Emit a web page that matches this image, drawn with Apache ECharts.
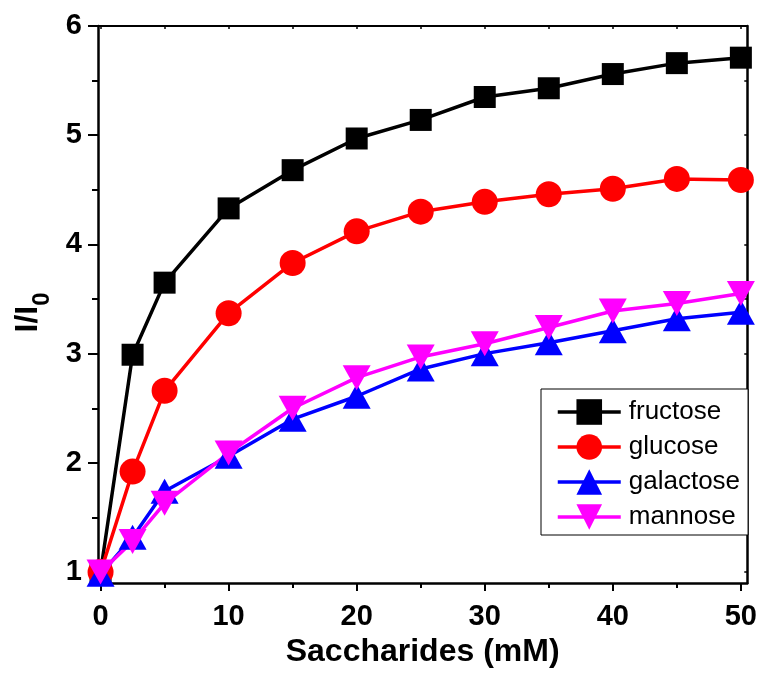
<!DOCTYPE html>
<html>
<head>
<meta charset="utf-8">
<script src="https://cdn.jsdelivr.net/npm/echarts@6/dist/echarts.min.js"></script>
<style>html,body{margin:0;padding:0;background:#fff;}#c{width:760px;height:677px;}</style>
</head>
<body>
<div id="c"></div>
<script>
var xValues = [0, 2.5, 5, 10, 15, 20, 25, 30, 35, 40, 45, 50];
var fructose = [1.0, 2.99, 3.65, 4.33, 4.68, 4.97, 5.14, 5.35, 5.43, 5.56, 5.66, 5.71];
var glucose = [1.0, 1.92, 2.66, 3.37, 3.83, 4.12, 4.30, 4.39, 4.46, 4.51, 4.60, 4.59];
var galactose = [0.98, 1.32, 1.74, 2.06, 2.40, 2.61, 2.86, 3.00, 3.10, 3.21, 3.32, 3.38];
var mannose = [1.0, 1.28, 1.63, 2.09, 2.50, 2.78, 2.97, 3.09, 3.24, 3.39, 3.46, 3.55];
var xMajorTicks = [0, 10, 20, 30, 40, 50];
var xMinorTicks = [5, 15, 25, 35, 45];
var yMajorTicks = [1, 2, 3, 4, 5, 6];
var yMinorTicks = [1.5, 2.5, 3.5, 4.5, 5.5];

function pairs(ys) { return xValues.map(function (x, i) { return [x, ys[i]]; }); }

var FONT = 'Liberation Sans, Arial, sans-serif';
var X_MIN = -0.2, X_MAX = 50.5, Y_MIN = 0.9, Y_MAX = 6;

var chart = echarts.init(document.getElementById('c'), null, {renderer: 'canvas'});

function mk(name, data, color, symbol, size, rotate) {
  return {
    name: name, type: 'line', data: pairs(data),
    xAxisIndex: 0, yAxisIndex: 0,
    symbol: symbol, symbolSize: size, symbolRotate: rotate || 0,
    showAllSymbol: true,
    lineStyle: {color: color, width: 3.5},
    itemStyle: {color: color, borderWidth: 0},
    emphasis: {disabled: true},
    animation: false
  };
}

var option = {
  animation: false,
  backgroundColor: '#fff',
  grid: {left: 98, right: 12, top: 26, bottom: 94, containLabel: false},
  xAxis: [
    {
      type: 'value', position: 'bottom', min: X_MIN, max: X_MAX,
      name: 'Saccharides (mM)', nameLocation: 'middle', nameGap: 52,
      nameTextStyle: {fontFamily: FONT, fontSize: 32, fontWeight: 'bold', color: '#000'},
      axisLine: {show: true, onZero: false, lineStyle: {color: '#000', width: 2.5}},
      axisTick: {show: true, inside: false, length: 8, customValues: xMajorTicks, lineStyle: {color: '#000', width: 2}},
      axisLabel: {show: true, margin: 19, customValues: xMajorTicks, fontFamily: FONT, fontSize: 29, fontWeight: 'bold', color: '#000'},
      splitLine: {show: false}
    },
    {
      type: 'value', position: 'top', min: X_MIN, max: X_MAX,
      axisLine: {show: true, onZero: false, lineStyle: {color: '#000', width: 2}},
      axisTick: {show: true, inside: true, length: 3, customValues: xMajorTicks.concat(xMinorTicks), lineStyle: {color: '#000', width: 1.5}},
      axisLabel: {show: false},
      splitLine: {show: false}
    },
    {
      type: 'value', position: 'bottom', min: X_MIN, max: X_MAX,
      axisLine: {show: false, onZero: false},
      axisTick: {show: true, inside: false, length: 5, customValues: xMinorTicks, lineStyle: {color: '#000', width: 2}},
      axisLabel: {show: false},
      splitLine: {show: false}
    }
  ],
  yAxis: [
    {
      type: 'value', position: 'left', min: Y_MIN, max: Y_MAX,
      name: '{a|I/I}{b|0}', nameLocation: 'middle', nameGap: 52, nameRotate: 90,
      nameTextStyle: {
        fontFamily: FONT, color: '#000', padding: [0, 16, 0, 0],
        rich: {
          a: {fontFamily: FONT, fontSize: 32, fontWeight: 'bold', color: '#000', lineHeight: 34, verticalAlign: 'top', padding: [0, 0, 8, 0]},
          b: {fontFamily: FONT, fontSize: 24, fontWeight: 'bold', color: '#000', lineHeight: 24, verticalAlign: 'top', padding: [18, 0, 0, 0]}
        }
      },
      axisLine: {show: true, onZero: false, lineStyle: {color: '#000', width: 2.5}},
      axisTick: {show: true, inside: false, length: 10, customValues: yMajorTicks, lineStyle: {color: '#000', width: 2}},
      axisLabel: {show: true, margin: 16, customValues: yMajorTicks, fontFamily: FONT, fontSize: 29, fontWeight: 'bold', color: '#000'},
      splitLine: {show: false}
    },
    {
      type: 'value', position: 'right', min: Y_MIN, max: Y_MAX,
      axisLine: {show: true, onZero: false, lineStyle: {color: '#000', width: 2.5}},
      axisTick: {show: true, inside: true, length: 3, customValues: yMajorTicks.concat(yMinorTicks), lineStyle: {color: '#000', width: 1.5}},
      axisLabel: {show: false},
      splitLine: {show: false}
    },
    {
      type: 'value', position: 'left', min: Y_MIN, max: Y_MAX,
      axisLine: {show: false, onZero: false},
      axisTick: {show: true, inside: false, length: 6, customValues: yMinorTicks, lineStyle: {color: '#000', width: 2}},
      axisLabel: {show: false},
      splitLine: {show: false}
    }
  ],
  legend: {
    show: true, orient: 'vertical', left: 541, top: 389,
    width: 209,
    padding: [8, 8, 3, 15],
    itemGap: 5, itemWidth: 63, itemHeight: 32,
    backgroundColor: '#fff', borderColor: '#000', borderWidth: 1, borderRadius: 0,
    lineStyle: {width: 3.5},
    textStyle: {fontFamily: FONT, fontSize: 26, color: '#000', lineHeight: 30, padding: [0, 0, 0, 3]},
    data: ['fructose', 'glucose', 'galactose', 'mannose']
  },
  series: [
    mk('fructose', fructose, '#000000', 'rect', 22),
    mk('glucose', glucose, '#ff0000', 'circle', 26),
    mk('galactose', galactose, '#0000ff', 'triangle', [28, 25]),
    mk('mannose', mannose, '#ff00ff', 'triangle', [28, 25], 180)
  ]
};
chart.setOption(option);
</script>
</body>
</html>
